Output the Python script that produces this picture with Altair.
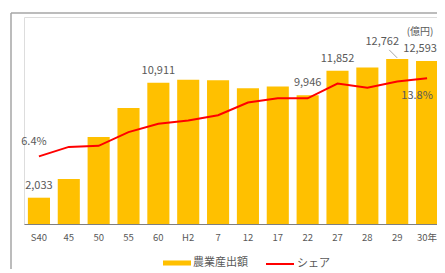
import altair as alt
import pandas as pd

categories = ["S40", "45", "50", "55", "60", "H2", "7", "12", "17", "22", "27", "28", "29", "30年"]
output_oku = [2033, 3480, 6730, 8960, 10911, 11150, 11120, 10500, 10630, 9946, 11852, 12100, 12762, 12593]
share_pct = [6.4, 7.3, 7.4, 8.7, 9.5, 9.8, 10.3, 11.5, 11.9, 11.9, 13.3, 12.9, 13.5, 13.8]
bar_label_cats = ["S40", "60", "22", "27"]
last_cat = ["30年"]
offset_label_cats = ["29"]
share_label_first = ["S40"]
unit_text = "(億円)"
series_bar = "農業産出額"
series_line = "シェア"

df = pd.DataFrame({
    "cat": categories,
    "output": output_oku,
    "share": share_pct,
    "s1": series_bar,
    "s2": series_line,
})

FONT = "Noto Sans CJK JP"
TXT = "#595959"
W, H = 413, 207
XRANGE = 418

xaxis = alt.Axis(title=None, ticks=False, labelPadding=8, labelFontSize=9.5,
                 labelFont=FONT, labelColor=TXT, domainColor="#7f7f7f",
                 domainWidth=1, labelAngle=0, grid=False)
xscale = alt.Scale(paddingInner=0.26, paddingOuter=0.13, range=[0, XRANGE])
X = alt.X("cat:N", sort=categories, scale=xscale, axis=xaxis)
ybar = alt.Scale(domain=[0, 16000])
yline = alt.Scale(domain=[0, 19.6])

base = alt.Chart(df)
one = alt.Chart(pd.DataFrame({"a": [0]}))

frame_left = one.mark_rule(stroke="#a6a6a6", strokeWidth=1.5).encode(
    x=alt.value(-13), y=alt.value(-4), y2=alt.value(H + 60))
frame_top = one.mark_rule(stroke="#a6a6a6", strokeWidth=1.5).encode(
    x=alt.value(-13), x2=alt.value(W + 10), y=alt.value(-4))

bars = base.mark_bar(color="#FFC000").encode(
    x=X,
    y=alt.Y("output:Q", scale=ybar, axis=None),
    color=alt.Color("s1:N", scale=alt.Scale(domain=[series_bar], range=["#FFC000"]),
                    legend=alt.Legend(title=None, orient="none", legendX=139, legendY=232,
                                      symbolType="M-1,-0.18H1V0.18H-1Z", symbolSize=784,
                                      symbolStrokeWidth=0, labelFont=FONT, labelFontSize=11,
                                      labelColor=TXT, labelOffset=2, padding=0)),
)

bar_labels = base.transform_filter(
    alt.FieldOneOfPredicate(field="cat", oneOf=bar_label_cats)
).mark_text(dy=-12, baseline="middle", font=FONT, fontSize=11, color=TXT).encode(
    x=X, y=alt.Y("output:Q", scale=ybar, axis=None),
    text=alt.Text("output:Q", format=","),
)

last_label = base.transform_filter(
    alt.FieldOneOfPredicate(field="cat", oneOf=last_cat)
).mark_text(dx=-7, dy=-12, baseline="middle", font=FONT, fontSize=11, color=TXT).encode(
    x=X, y=alt.Y("output:Q", scale=ybar, axis=None),
    text=alt.Text("output:Q", format=","),
)

off_labels = base.transform_filter(
    alt.FieldOneOfPredicate(field="cat", oneOf=offset_label_cats)
).mark_text(dx=-15, dy=-17, baseline="middle", font=FONT, fontSize=11, color=TXT).encode(
    x=X, y=alt.Y("output:Q", scale=ybar, axis=None),
    text=alt.Text("output:Q", format=","),
)

leader = base.transform_filter(
    alt.FieldOneOfPredicate(field="cat", oneOf=offset_label_cats)
).mark_rule(color="#a6a6a6", strokeWidth=1, xOffset=-8, yOffset=-9, x2Offset=0, y2Offset=-1).encode(
    x=X, x2="cat:N",
    y=alt.Y("output:Q", scale=ybar, axis=None), y2="output:Q",
)

unit = base.transform_filter(
    alt.FieldOneOfPredicate(field="cat", oneOf=last_cat)
).mark_text(dx=-7, dy=-29, baseline="middle", font=FONT, fontSize=10, color=TXT, text=unit_text).encode(
    x=X, y=alt.Y("output:Q", scale=ybar, axis=None),
)

line = base.mark_line(strokeWidth=2).encode(
    x=X,
    y=alt.Y("share:Q", scale=yline, axis=None),
    stroke=alt.Stroke("s2:N", scale=alt.Scale(domain=[series_line], range=["#FF0000"]),
                      legend=alt.Legend(title=None, orient="none", legendX=241, legendY=232,
                                        symbolType="stroke", symbolSize=784, symbolStrokeWidth=2,
                                        labelFont=FONT, labelFontSize=11, labelColor=TXT,
                                        labelOffset=2, padding=0)),
)

share_first = base.transform_filter(
    alt.FieldOneOfPredicate(field="cat", oneOf=share_label_first)
).transform_calculate(lbl="format(datum.share, '.1f') + '%'").mark_text(
    dx=-5, dy=-14, baseline="middle", font=FONT, fontSize=11, color=TXT
).encode(x=X, y=alt.Y("share:Q", scale=yline, axis=None), text="lbl:N")

share_last = base.transform_filter(
    alt.FieldOneOfPredicate(field="cat", oneOf=last_cat)
).transform_calculate(lbl="format(datum.share, '.1f') + '%'").mark_text(
    dx=-10, dy=18, baseline="middle", font=FONT, fontSize=11, color=TXT
).encode(x=X, y=alt.Y("share:Q", scale=yline, axis=None), text="lbl:N")

chart = alt.layer(
    frame_left, frame_top, bars, bar_labels, last_label, off_labels, leader, unit,
    line, share_first, share_last
).resolve_scale(y="independent", color="independent").properties(
    width=W, height=H,
    autosize=alt.AutoSizeParams(type="none"),
    padding={"left": 16, "top": 9, "right": 0, "bottom": 45},
).configure_view(stroke=None).configure(background="white")

chart.save("out.html", embed_options={"renderer": "svg", "actions": False})
